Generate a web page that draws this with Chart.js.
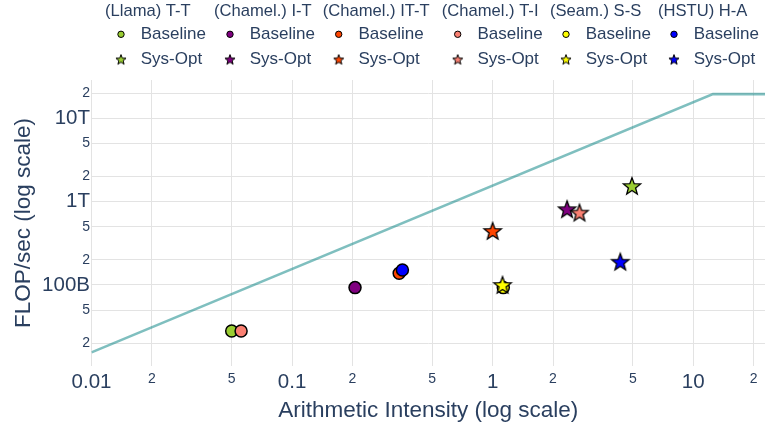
<!DOCTYPE html>
<html>
<head>
<meta charset="utf-8">
<script src="https://cdn.jsdelivr.net/npm/chart.js@4/dist/chart.umd.min.js"></script>
<style>
  body { margin: 0; background: #fff; }
  #wrap { width: 765px; height: 427px; }
</style>
</head>
<body>
<div id="wrap"><canvas id="roofline" width="765" height="427"></canvas></div>
<script>
// Modelos y colores
const models = ['(Llama) T-T', '(Chamel.) I-T', '(Chamel.) IT-T', '(Chamel.) T-I', '(Seam.) S-S', '(HSTU) H-A'];
const colors = ['#9acd32', '#800080', '#ff4500', '#fa8072', '#ffff00', '#0000ff'];

// Baseline (circulos)
const baselineAI = [0.050, 0.206, 0.342, 0.0557, 1.13, 0.355];
const baselineFlops = [28e9, 93e9, 138e9, 28e9, 93e9, 151e9];

// Sys-Opt (estrellas)
const sysOptAI = [4.95, 2.35, 1.0, 2.71, 1.12, 4.33];
const sysOptFlops = [1.54e12, 811e9, 445e9, 738e9, 100e9, 190e9];

// Roofline
const rooflineAI = [0.01, 12.54, 100];
const rooflineFlops = [15.55e9, 19.5e12, 19.5e12];

// Ticks
const xTickValues = [0.01, 0.02, 0.05, 0.1, 0.2, 0.5, 1, 2, 5, 10, 20];
const xTickLabels = ['0.01', '2', '5', '0.1', '2', '5', '1', '2', '5', '10', '2'];
const yTickValues = [2e10, 5e10, 1e11, 2e11, 5e11, 1e12, 2e12, 5e12, 1e13, 2e13];
const yTickLabels = ['2', '5', '100B', '2', '5', '1T', '2', '5', '10T', '2'];

const FONT = "'Liberation Sans', Arial, sans-serif";
const TEXT = '#2a3f5f';

// estrella de 5 puntas como imagen para pointStyle
function makeStar(color, R, lw) {
    const size = Math.ceil(2 * R + lw + 2);
    const c = document.createElement('canvas');
    c.width = size;
    c.height = size;
    const g = c.getContext('2d');
    const cx = size / 2, cy = size / 2 + R * 0.08;
    g.beginPath();
    for (let k = 0; k < 10; k++) {
        const a = -Math.PI / 2 + k * Math.PI / 5;
        const r = k % 2 === 0 ? R : R * 0.42;
        const px = cx + r * Math.cos(a), py = cy + r * Math.sin(a);
        if (k === 0) g.moveTo(px, py); else g.lineTo(px, py);
    }
    g.closePath();
    g.fillStyle = color;
    g.fill();
    g.lineWidth = lw;
    g.lineJoin = 'miter';
    g.strokeStyle = '#000';
    g.stroke();
    return c;
}

const bigStars = colors.map(c => makeStar(c, 9, 1.3));
const smallStars = colors.map(c => makeStar(c, 5.3, 1));

const isMajor = lbl => lbl !== '2' && lbl !== '5';

// datasets
const datasets = [];
models.forEach(function (m, i) {
    datasets.push({
        label: m + ' Baseline',
        data: [{ x: baselineAI[i], y: baselineFlops[i] }],
        pointStyle: 'circle',
        pointRadius: 6,
        backgroundColor: colors[i],
        borderColor: '#000',
        borderWidth: 1.5
    });
    datasets.push({
        label: m + ' Sys-Opt',
        data: [{ x: sysOptAI[i], y: sysOptFlops[i] }],
        pointStyle: bigStars[i],
        pointRadius: 9,
        backgroundColor: colors[i],
        borderColor: '#000'
    });
});
datasets.forEach((d, k) => { d.order = datasets.length - k; });
datasets.push({
    label: 'Roofline',
    data: rooflineAI.map((x, i) => ({ x: x, y: rooflineFlops[i] })),
    showLine: true,
    pointRadius: 0,
    borderColor: 'rgba(0,128,128,0.5)',
    borderWidth: 2.6,
    order: 100
});

// leyenda agrupada (titulo + Baseline + Sys-Opt por columna)
const legendCols = [105, 214, 322.7, 441.7, 550, 658];
const groupLegend = {
    id: 'groupLegend',
    afterDraw(chart) {
        const ctx = chart.ctx;
        ctx.save();
        ctx.textBaseline = 'middle';
        ctx.textAlign = 'left';
        models.forEach(function (m, i) {
            const x0 = legendCols[i];
            ctx.fillStyle = TEXT;
            ctx.font = '16.6px ' + FONT;
            ctx.fillText(m, x0, 11);
            ctx.font = '17px ' + FONT;
            ctx.fillText('Baseline', x0 + 35.7, 34.4);
            ctx.fillText('Sys-Opt', x0 + 35.7, 59);
            // circulo
            ctx.beginPath();
            ctx.arc(x0 + 16, 34.3, 3.2, 0, Math.PI * 2);
            ctx.fillStyle = colors[i];
            ctx.fill();
            ctx.lineWidth = 1;
            ctx.strokeStyle = '#000';
            ctx.stroke();
            // estrella
            const s = smallStars[i];
            ctx.drawImage(s, x0 + 16 - s.width / 2, 59.5 - s.height / 2);
        });
        ctx.restore();
    }
};

new Chart('roofline', {
    type: 'scatter',
    data: { datasets: datasets },
    plugins: [groupLegend],
    options: {
        responsive: false,
        animation: false,
        devicePixelRatio: 1,
        events: [],
        layout: { autoPadding: false, padding: { top: 80, right: 0, bottom: 0, left: 0 } },
        plugins: { legend: { display: false }, tooltip: { enabled: false } },
        scales: {
            x: {
                type: 'logarithmic',
                min: 0.01,
                max: 22.8,
                afterBuildTicks: s => { s.ticks = xTickValues.map(v => ({ value: v })); },
                afterFit: s => { s.height = 61; s.paddingLeft = 0; s.paddingRight = 0; },
                grid: { color: '#e3e3e3', drawTicks: false },
                border: { display: false },
                ticks: {
                    autoSkip: false,
                    maxRotation: 0,
                    padding: 4.5,
                    color: TEXT,
                    font: c => ({ family: FONT, size: isMajor(xTickLabels[c.index]) ? 20.5 : 14 }),
                    callback: (v, i) => xTickLabels[i]
                },
                title: {
                    display: true,
                    text: 'Arithmetic Intensity (log scale)',
                    color: TEXT,
                    font: { family: FONT, size: 22.5 },
                    padding: { top: 0, bottom: 3 }
                }
            },
            y: {
                type: 'logarithmic',
                min: 1.067e10,
                max: 2.88e13,
                afterBuildTicks: s => { s.ticks = yTickValues.map(v => ({ value: v })); },
                afterFit: s => { s.width = 91.5; s.paddingTop = 0; s.paddingBottom = 0; },
                grid: { color: '#e3e3e3', drawTicks: false },
                border: { display: false },
                ticks: {
                    autoSkip: false,
                    padding: 1.5,
                    color: TEXT,
                    font: c => ({ family: FONT, size: isMajor(yTickLabels[c.index]) ? 20.5 : 14 }),
                    callback: (v, i) => yTickLabels[i]
                },
                title: {
                    display: true,
                    text: 'FLOP/sec (log scale)',
                    color: TEXT,
                    font: { family: FONT, size: 22.5 },
                    padding: { top: 10, bottom: 0 }
                }
            }
        }
    }
});
</script>
</body>
</html>
